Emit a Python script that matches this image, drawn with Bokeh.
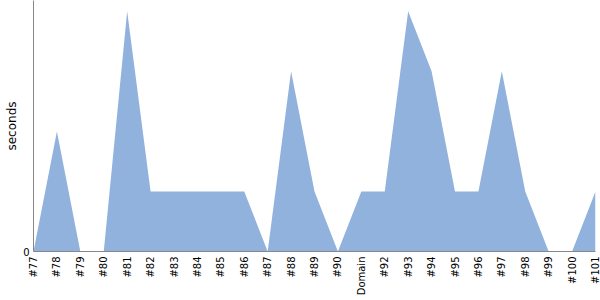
import math
from bokeh.plotting import figure
from bokeh.models import Range1d, FixedTicker
from bokeh.embed import file_html
from bokeh.resources import INLINE

categories = ["#77", "#78", "#79", "#80", "#81", "#82", "#83", "#84", "#85", "#86",
              "#87", "#88", "#89", "#90", "Domain", "#92", "#93", "#94", "#95", "#96",
              "#97", "#98", "#99", "#100", "#101"]
seconds = [0, 2, 0, 0, 4, 1, 1, 1, 1, 1,
           0, 3, 1, 0, 1, 1, 4, 3, 1, 1,
           3, 1, 0, 0, 1]

xs = list(range(len(categories)))

p = figure(width=600, height=300, output_backend="svg", toolbar_location=None,
           x_range=Range1d(0, len(categories) - 1), y_range=Range1d(0, 4.18),
           min_border_left=33, min_border_right=5, min_border_top=0, min_border_bottom=49)

p.varea(x=xs, y1=[0] * len(xs), y2=seconds, fill_color="#90B2DC", fill_alpha=1.0)

p.outline_line_color = None
p.xgrid.grid_line_color = None
p.ygrid.grid_line_color = None

p.xaxis.ticker = FixedTicker(ticks=xs)
p.xaxis.major_label_overrides = {i: c for i, c in enumerate(categories)}
p.xaxis.major_label_orientation = math.pi / 2
p.xaxis.major_label_standoff = 5
p.yaxis.ticker = FixedTicker(ticks=[0])
p.yaxis.axis_label = "seconds"
p.yaxis.major_label_standoff = 4
p.yaxis.axis_label_standoff = 1

for ax in (p.xaxis[0], p.yaxis[0]):
    ax.axis_line_color = "#888888"
    ax.major_tick_line_color = None
    ax.minor_tick_line_color = None
    ax.major_tick_out = 0
    ax.major_tick_in = 0
    ax.minor_tick_out = 0
    ax.minor_tick_in = 0
    ax.major_label_text_font = "DejaVu Sans"
    ax.major_label_text_font_size = "10px"
    ax.major_label_text_color = "#000000"
    ax.axis_label_text_font = "DejaVu Sans"
    ax.axis_label_text_font_size = "12px"
    ax.axis_label_text_font_style = "normal"
    ax.axis_label_text_color = "#000000"

open("out.html", "w").write(file_html(p, INLINE))
